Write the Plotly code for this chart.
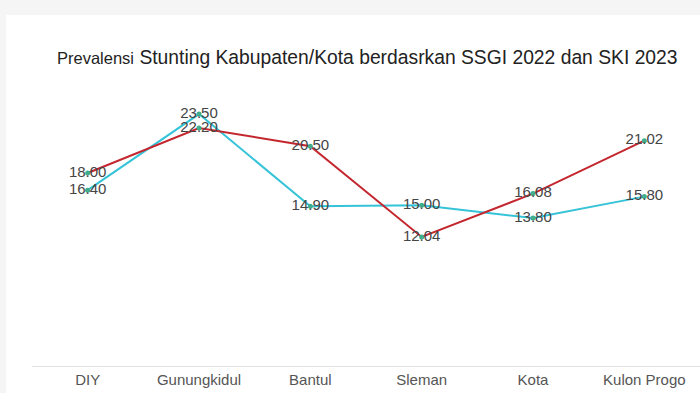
import plotly.graph_objects as go

categories = ["DIY", "Gunungkidul", "Bantul", "Sleman", "Kota", "Kulon Progo"]
ssgi_2022 = [16.40, 23.50, 14.90, 15.00, 13.80, 15.80]
ski_2023 = [18.00, 22.20, 20.50, 12.04, 16.08, 21.02]

W, H = 700, 393
ML, MR, MT, MB = 32, 0, 98, 27

fig = go.Figure()

fig.add_trace(go.Scatter(
    x=categories, y=ssgi_2022, mode="lines+markers+text",
    line=dict(color="#35c3d8", width=2),
    marker=dict(color="#3fae8c", size=5),
    text=[f"{v:.2f}" for v in ssgi_2022], textposition="middle center",
    textfont=dict(family="Liberation Sans, Arial, sans-serif", size=15, color="#444444"),
    cliponaxis=False, showlegend=False, name="SSGI 2022",
))
fig.add_trace(go.Scatter(
    x=categories, y=ski_2023, mode="lines+markers+text",
    line=dict(color="#c4262e", width=2),
    marker=dict(color="#3fae8c", size=5),
    text=[f"{v:.2f}" for v in ski_2023], textposition="middle center",
    textfont=dict(family="Liberation Sans, Arial, sans-serif", size=15, color="#444444"),
    cliponaxis=False, showlegend=False, name="SKI 2023",
))

pw = W - ML - MR
ph = H - MT - MB
def px_x(p):
    return (p - ML) / pw
def px_y(p):
    return (H - MB - p) / ph

fig.add_shape(type="rect", xref="paper", yref="paper",
              x0=px_x(6), x1=px_x(W + 5), y0=px_y(H + 5), y1=px_y(15),
              fillcolor="white", line=dict(width=0), layer="below")

fig.update_layout(
    width=W, height=H,
    margin=dict(l=ML, r=MR, t=MT, b=MB),
    paper_bgcolor="#f5f5f5",
    plot_bgcolor="white",
    font=dict(family="Liberation Sans, Arial, sans-serif", color="#555555"),
    title=dict(
        text="<span style='font-size:16.5px'>Prevalensi</span> Stunting Kabupaten/Kota berdasrkan SSGI 2022 dan SKI 2023",
        x=57 / W, xanchor="left", y=1 - 57 / H, yanchor="middle",
        font=dict(size=19.3, color="#222222", family="Liberation Sans, Arial, sans-serif"),
    ),
    xaxis=dict(
        type="category", range=[-0.5, 5.5],
        showline=True, linecolor="#e2e2e2", linewidth=1,
        showgrid=False, zeroline=False, ticks="",
        tickfont=dict(size=15, color="#555555"),
    ),
    yaxis=dict(
        range=[0, 25], visible=False, showgrid=False, zeroline=False,
    ),
)

fig.write_html(
    "out.html",
    config={"displayModeBar": False},
    post_script="document.body.style.margin='0';document.body.style.padding='0';document.body.style.overflow='hidden';",
)
